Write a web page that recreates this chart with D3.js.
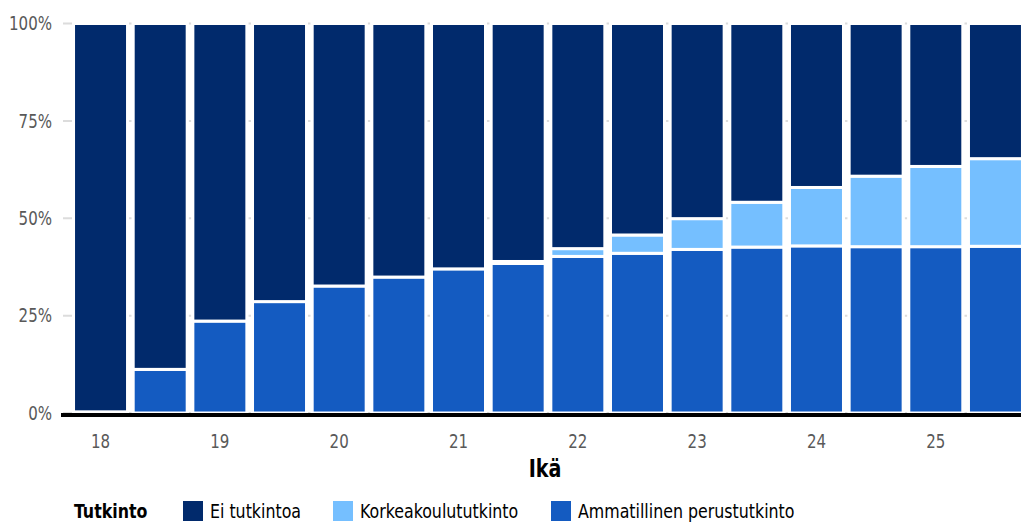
<!DOCTYPE html>
<html>
<head>
<meta charset="utf-8">
<script src="https://cdn.jsdelivr.net/npm/d3@7"></script>
<style>
  body { margin: 0; background: #fff; }
  svg text { font-family: "DejaVu Sans Condensed", "DejaVu Sans", sans-serif; }
</style>
</head>
<body>
<div id="chart"></div>
<script>
// Data (percent of age group)
const ages = ["18", "18.5", "19", "19.5", "20", "20.5", "21", "21.5",
              "22", "22.5", "23", "23.5", "24", "24.5", "25", "25.5"];
const ammatillinen = [0.3, 11.2, 23.6, 28.6, 32.6, 34.9, 37.0, 38.4,
                      40.2, 41.0, 42.0, 42.6, 42.9, 42.7, 42.7, 42.8];
const korkeakoulu = [0, 0, 0, 0, 0, 0, 0, 0.5,
                     2.0, 4.7, 7.9, 11.5, 15.0, 18.1, 20.6, 22.5];
const eiTutkintoa = ammatillinen.map((d, i) => 100 - d - korkeakoulu[i]);
const yTicks = [0, 25, 50, 75, 100];
const xTicks = ["18", "19", "20", "21", "22", "23", "24", "25"];

const seriesKeys = ["Ammatillinen perustutkinto", "Korkeakoulututkinto", "Ei tutkintoa"];
const colors = {
    "Ei tutkintoa": "#012a6c",
    "Korkeakoulututkinto": "#75bfff",
    "Ammatillinen perustutkinto": "#145bc1"
};
const legendOrder = ["Ei tutkintoa", "Korkeakoulututkinto", "Ammatillinen perustutkinto"];

const width = 1021, height = 524;
const squeeze = "scale(0.88,1)"; // narrow the glyphs to mimic a condensed face

const svg = d3.select("#chart")
    .append("svg")
    .attr("width", width)
    .attr("height", height);

// Scales
const x = d3.scaleBand()
    .domain(ages)
    .range([70.7, 1025.3])
    .paddingInner(0.095)
    .paddingOuter(0.0475);

const y = d3.scaleLinear()
    .domain([0, 100])
    .range([413, 23.5]);

// Stack
const table = ages.map((a, i) => ({
    age: a,
    "Ammatillinen perustutkinto": ammatillinen[i],
    "Korkeakoulututkinto": korkeakoulu[i],
    "Ei tutkintoa": eiTutkintoa[i]
}));
const stacked = d3.stack().keys(seriesKeys)(table);

// Gridlines
svg.append("g")
    .selectAll("line")
    .data(yTicks)
    .join("line")
    .attr("x1", 63)
    .attr("x2", width)
    .attr("y1", d => y(d))
    .attr("y2", d => y(d))
    .attr("stroke", "#dcdcdc")
    .attr("stroke-width", 2);

// Y labels
svg.append("g")
    .selectAll("text")
    .data(yTicks)
    .join("text")
    .attr("transform", d => `translate(52,${y(d)}) ${squeeze}`)
    .attr("dy", "0.36em")
    .attr("text-anchor", "end")
    .attr("fill", "#595959")
    .style("font-size", "19px")
    .text(d => d + "%");

// White halo behind every column (hides grid near bars)
svg.append("g")
    .selectAll("rect")
    .data(ages)
    .join("rect")
    .attr("x", d => x(d) - 1.5)
    .attr("width", x.bandwidth() + 3)
    .attr("y", y(100) - 2)
    .attr("height", y(0) - y(100) + 2)
    .attr("fill", "#fff");

// Bars
svg.append("g")
    .selectAll("g")
    .data(stacked)
    .join("g")
    .attr("fill", d => colors[d.key])
    .selectAll("rect")
    .data(d => d)
    .join("rect")
    .attr("x", d => x(d.data.age))
    .attr("y", d => y(d[1]))
    .attr("width", x.bandwidth())
    .attr("height", d => y(d[0]) - y(d[1]))
    .attr("stroke", "#fff")
    .attr("stroke-width", 3);

// X axis
const xAxis = svg.append("g")
    .attr("transform", `translate(0,${y(0)})`)
    .call(d3.axisBottom(x).tickValues(xTicks).tickSize(0));
xAxis.select(".domain").remove();
xAxis.selectAll("text")
    .attr("y", null)
    .attr("dy", null)
    .attr("transform", `translate(0,35) ${squeeze}`)
    .attr("fill", "#595959")
    .style("font-size", "19px");

// Baseline
svg.append("line")
    .attr("x1", 61)
    .attr("x2", width)
    .attr("y1", y(0) + 2)
    .attr("y2", y(0) + 2)
    .attr("stroke", "#000")
    .attr("stroke-width", 4);

// Axis title
svg.append("text")
    .attr("transform", `translate(545,477) scale(0.85,1)`)
    .attr("text-anchor", "middle")
    .attr("fill", "#000")
    .style("font-size", "25px")
    .style("font-weight", "bold")
    .text("Ikä");

// Legend
const legend = svg.append("g");
legend.append("text")
    .attr("transform", `translate(74,518) ${squeeze}`)
    .attr("fill", "#000")
    .style("font-size", "20px")
    .style("font-weight", "bold")
    .text("Tutkinto");

const legendX = [183, 333, 551];
const items = legend.selectAll("g.item")
    .data(legendOrder)
    .join("g")
    .attr("class", "item")
    .attr("transform", (d, i) => `translate(${legendX[i]},501)`);
items.append("rect")
    .attr("width", 20)
    .attr("height", 20)
    .attr("fill", d => colors[d]);
items.append("text")
    .attr("transform", `translate(27,17) ${squeeze}`)
    .attr("fill", "#000")
    .style("font-size", "20px")
    .text(d => d);
</script>
</body>
</html>
